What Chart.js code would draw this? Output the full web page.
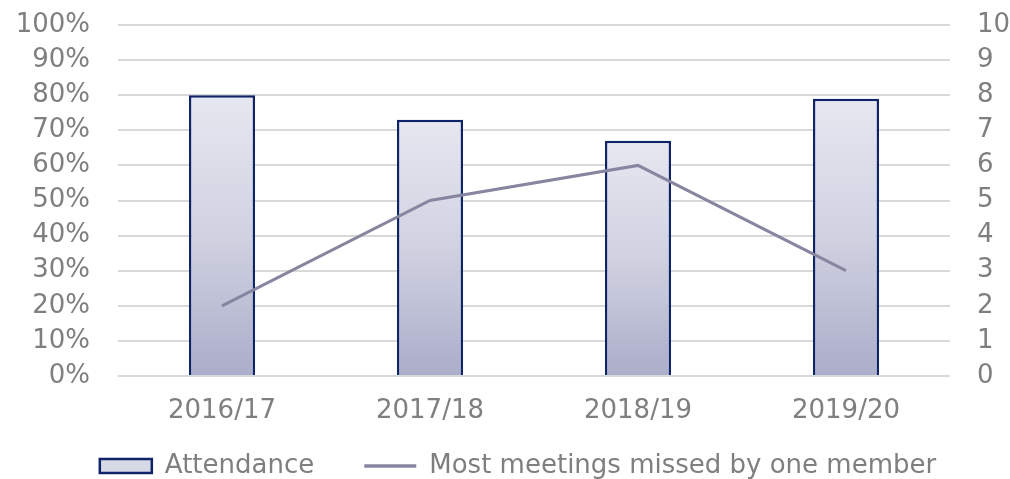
<!DOCTYPE html>
<html><head><meta charset="utf-8">
<script src="https://cdn.jsdelivr.net/npm/chart.js@4"></script>
<style>html,body{margin:0;padding:0;background:#fff}#wrap{width:1010px;height:479px}</style>
</head><body><div id="wrap"><canvas id="c" width="1010" height="479"></canvas></div>
<script>
const categories = ["2016/17", "2017/18", "2018/19", "2019/20"];
const attendance = [80, 73, 67, 79];
const missed = [2, 5, 6, 3];
const leftTicks = [0,10,20,30,40,50,60,70,80,90,100];
const rightTicks = [0,1,2,3,4,5,6,7,8,9,10];

const FONT = "'DejaVu Sans', Verdana, sans-serif";
const GRAY = '#7f7f7f';
const FS = 26;
const LEGEND_PAD = 17;
const LEGEND_H = 43;
const LEGEND_SHIFT = 13;

function barGrad(c) {
  const chart = c.chart;
  const ys = chart.scales.y;
  if (!ys || !chart.chartArea || c.parsed === undefined) return '#d3d5e3';
  const top = ys.getPixelForValue(c.parsed.y);
  const base = ys.getPixelForValue(0);
  if (!isFinite(top) || !isFinite(base) || top === base) return '#d3d5e3';
  const g = chart.ctx.createLinearGradient(0, top, 0, base);
  g.addColorStop(0, '#e6e7f0');
  g.addColorStop(0.5, '#d0d2e1');
  g.addColorStop(1, '#abadca');
  return g;
}

const legendFix = {
  id: 'legendFix',
  beforeLayout(chart) {
    const lg = chart.legend;
    if (lg && !lg._hfix) {
      const f = lg.fit;
      lg.fit = function () { f.call(this); this.height = LEGEND_H; };
      const d = lg.draw;
      lg.draw = function () {
        const ctx = this.ctx;
        ctx.save(); ctx.translate(LEGEND_SHIFT, 0);
        d.apply(this, arguments);
        ctx.restore();
      };
      lg._hfix = true;
    }
  }
};

new Chart(document.getElementById('c'), {
  plugins: [legendFix],
  data: {
    labels: categories,
    datasets: [
      {
        type: 'line', label: 'Most meetings missed by one member', data: missed,
        yAxisID: 'y1', borderColor: '#8786a1', backgroundColor: '#8786a1',
        borderWidth: 3, pointRadius: 0, tension: 0, order: 0
      },
      {
        type: 'bar', label: 'Attendance', data: attendance, yAxisID: 'y',
        backgroundColor: barGrad,
        borderColor: '#0f2468', borderWidth: 2.5, borderSkipped: 'bottom',
        categoryPercentage: 1, barPercentage: 0.318, order: 1
      }
    ]
  },
  options: {
    responsive: false, animation: false,
    layout: { padding: { top: 25, bottom: 0, left: 0, right: 0 } },
    plugins: {
      tooltip: { enabled: false },
      legend: {
        position: 'bottom', reverse: true,
        labels: {
          color: GRAY, font: { family: FONT, size: FS },
          usePointStyle: true, pointStyleWidth: 52, boxHeight: 14, padding: LEGEND_PAD,
          generateLabels(chart) {
            return chart.data.datasets.map((ds, i) => ({
              text: ds.type === 'bar' ? ds.label + '\u00a0\u00a0\u00a0\u00a0' : ds.label,
              datasetIndex: i,
              fillStyle: ds.type === 'bar' ? '#d7d9e6' : ds.borderColor,
              strokeStyle: ds.borderColor,
              lineWidth: ds.type === 'bar' ? 2.5 : 3.5,
              pointStyle: ds.type === 'bar' ? 'rect' : 'line',
              fontColor: GRAY,
              hidden: false
            }));
          }
        }
      }
    },
    scales: {
      x: {
        grid: { display: false, drawTicks: false },
        border: { display: false },
        afterFit: (s) => { s.height = 60; },
        ticks: { color: GRAY, font: { family: FONT, size: FS }, padding: 20, autoSkip: false, maxRotation: 0 }
      },
      y: {
        position: 'left', min: 0, max: 100,
        afterBuildTicks: (s) => { s.ticks = leftTicks.map(v => ({ value: v })); },
        afterFit: (s) => { s.width = 118; s.paddingTop = 0; s.paddingBottom = 0; },
        grid: { color: '#d9d9d9', lineWidth: 2, drawTicks: false },
        border: { display: false },
        ticks: { color: GRAY, font: { family: FONT, size: FS }, padding: 28, autoSkip: false, callback: v => v + '%' }
      },
      y1: {
        position: 'right', min: 0, max: 10,
        afterBuildTicks: (s) => { s.ticks = rightTicks.map(v => ({ value: v })); },
        afterFit: (s) => { s.width = 60; s.paddingTop = 0; s.paddingBottom = 0; },
        grid: { display: false, drawTicks: false },
        border: { display: false },
        ticks: { color: GRAY, font: { family: FONT, size: FS }, padding: 27, autoSkip: false }
      }
    }
  }
});
</script></body></html>
